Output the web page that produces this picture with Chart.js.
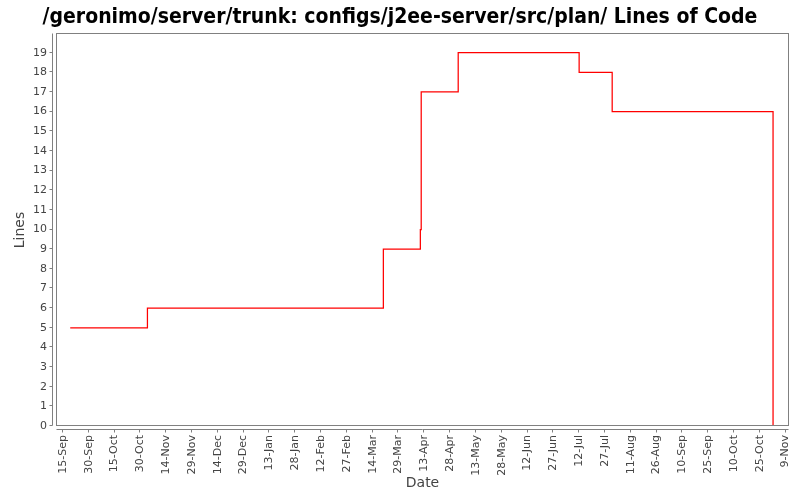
<!DOCTYPE html>
<html><head><meta charset="utf-8">
<script src="https://cdn.jsdelivr.net/npm/chart.js@4/dist/chart.umd.min.js"></script>
<style>html,body{margin:0;padding:0;background:#fff}#wrap{width:800px;height:500px}</style>
</head><body><div id="wrap"><canvas id="c" width="800" height="500"></canvas></div>
<script>
const titleText = '/geronimo/server/trunk: configs/j2ee-server/src/plan/ Lines of Code';
const dates = ['2005-09-19T05:00Z', '2005-11-03T02:00Z', '2006-03-20T05:00Z', '2006-04-10T17:00Z', '2006-04-11T05:00Z', '2006-05-02T17:00Z', '2006-07-12T00:00Z', '2006-07-31T05:00Z', '2006-11-01T17:00Z'];
const lines = [5, 6, 9, 10, 17, 19, 18, 16, 0];
const xTickStart = '2005-09-15T00:00Z';
const xTickStepDays = 15;
const xTickCount = 29;
const xRange = ['2005-09-11T12:30Z', '2006-11-10T09:30Z'];
const yTicks = [0,1,2,3,4,5,6,7,8,9,10,11,12,13,14,15,16,17,18,19];
const yMax = 19.95;
const monthNames = ['Jan','Feb','Mar','Apr','May','Jun','Jul','Aug','Sep','Oct','Nov','Dec'];

const DAY = 86400000;
const t0 = Date.parse(xTickStart);
const toDays = s => (Date.parse(s) - t0) / DAY;
const points = dates.map((d, i) => ({x: toDays(d), y: lines[i]}));
const xTickVals = Array.from({length: xTickCount}, (_, i) => i * xTickStepDays);
const fmt = v => { const d = new Date(t0 + v * DAY); return d.getUTCDate() + '-' + monthNames[d.getUTCMonth()]; };

const tickFont = {family: 'DejaVu Sans', size: 11};
const tickColor = '#444444';
const axisColor = '#808080';
const titleFont = 'bold 21px "Liberation Sans Narrow", "DejaVu Sans Condensed", sans-serif';

const framePlugin = {
  id: 'frame',
  afterDraw(chart) {
    const ctx = chart.ctx, ca = chart.chartArea;
    const xs = chart.scales.x, ys = chart.scales.y;
    ctx.save();
    ctx.fillStyle = '#000000';
    ctx.font = titleFont;
    ctx.textAlign = 'center';
    ctx.textBaseline = 'middle';
    ctx.fillText(titleText, chart.width / 2, 17.6);
    ctx.strokeStyle = axisColor;
    ctx.lineWidth = 1;
    const L = Math.round(ca.left) - 0.5, R = Math.round(ca.right) + 0.5;
    const T = Math.round(ca.top) - 0.5, B = Math.round(ca.bottom) - 0.5;
    ctx.strokeRect(L, T, R - L, B - T);
    const ax = L - 4;
    ctx.beginPath();
    ctx.moveTo(ax, T); ctx.lineTo(ax, B);
    yTicks.forEach(v => { const py = Math.round(ys.getPixelForValue(v)) - 0.5; ctx.moveTo(ax - 3, py); ctx.lineTo(ax, py); });
    const ay = B + 4;
    ctx.moveTo(L, ay); ctx.lineTo(R, ay);
    xTickVals.forEach(v => { const px = Math.round(xs.getPixelForValue(v)) - 0.5; ctx.moveTo(px, ay); ctx.lineTo(px, ay + 3); });
    ctx.stroke();
    ctx.restore();
  }
};

new Chart(document.getElementById('c'), {
  type: 'line',
  data: {datasets: [{data: points, borderColor: '#ff0000', borderWidth: 1.25, pointRadius: 0, stepped: true, fill: false}]},
  options: {
    responsive: false,
    animation: false,
    layout: {padding: {left: 0, right: 12, top: 34, bottom: 0}},
    plugins: {
      legend: {display: false},
      tooltip: {enabled: false},
      title: {display: false}
    },
    scales: {
      x: {
        type: 'linear',
        min: toDays(xRange[0]), max: toDays(xRange[1]),
        afterBuildTicks: s => { s.ticks = xTickVals.map(v => ({value: v})); },
        afterFit: s => { s.height = 74; s.paddingLeft = 0; s.paddingRight = 0; },
        ticks: {autoSkip: false, minRotation: 90, maxRotation: 90, padding: 9, color: tickColor, font: tickFont, callback: v => fmt(v)},
        grid: {display: false, drawTicks: false},
        border: {display: false},
        title: {display: true, text: 'Date', color: tickColor, font: {family: 'DejaVu Sans', size: 14}, padding: {top: 0, bottom: 8}}
      },
      y: {
        min: 0, max: yMax,
        afterBuildTicks: s => { s.ticks = yTicks.map(v => ({value: v})); },
        afterFit: s => { s.width = 57; s.paddingTop = 0; s.paddingBottom = 0; },
        ticks: {padding: 10, color: tickColor, font: tickFont},
        grid: {display: false, drawTicks: false},
        border: {display: false},
        title: {display: true, text: 'Lines', color: tickColor, font: {family: 'DejaVu Sans', size: 14}, padding: {top: 12, bottom: 0}}
      }
    }
  },
  plugins: [framePlugin]
});
</script>
</body></html>
